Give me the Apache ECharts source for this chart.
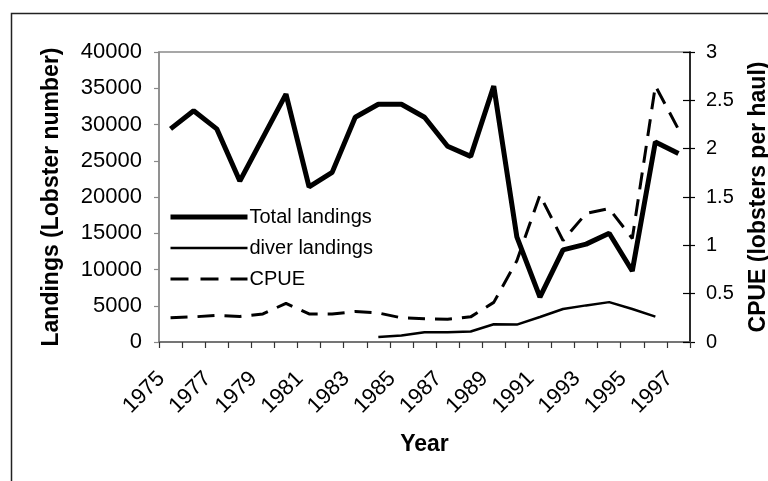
<!DOCTYPE html>
<html>
<head>
<meta charset="utf-8">
<script src="https://cdn.jsdelivr.net/npm/echarts@6/dist/echarts.min.js"></script>
<style>
  html, body { margin: 0; padding: 0; background: #fff; }
  #chart { width: 768px; height: 481px; }
</style>
</head>
<body>
<div id="chart"></div>
<script>
// Lobster fishery series, 1975-1997
const years = ['1975','1976','1977','1978','1979','1980','1981','1982','1983','1984','1985',
               '1986','1987','1988','1989','1990','1991','1992','1993','1994','1995','1996','1997'];

// Total landings (number of lobsters)
const totalLandings = [29400, 31900, 29400, 22200, 28200, 34200, 21400, 23400, 31000, 32800, 32800,
                       31000, 27000, 25600, 35300, 14500, 6200, 12700, 13500, 15000, 9800, 27600, 26000];

// Diver landings (number of lobsters), recorded from 1984 to 1996
const diverLandings = [null, null, null, null, null, null, null, null, null, 700, 900,
                       1350, 1350, 1450, 2450, 2400, 3450, 4550, 5050, 5500, 4550, 3500, null];

// Catch per unit effort (lobsters per haul)
const cpue = [0.25, 0.26, 0.275, 0.265, 0.29, 0.40, 0.29, 0.29, 0.315, 0.30, 0.25,
              0.24, 0.235, 0.26, 0.41, 0.84, 1.52, 1.05, 1.33, 1.38, 1.07, 2.65, 2.2];

const seriesNames = ['Total landings', 'diver landings', 'CPUE'];

const FONT = "'Liberation Sans', Arial, sans-serif";
const CPUE_DASH = [17, 10];

const chart = echarts.init(document.getElementById('chart'), null, { renderer: 'canvas' });

chart.setOption({
  animation: false,
  backgroundColor: '#ffffff',
  textStyle: { fontFamily: FONT, color: '#000' },
  graphic: [{
    type: 'rect',
    left: 9, top: 11,
    shape: { width: 800, height: 500 },
    style: { fill: 'none', stroke: '#222', lineWidth: 1.5 },
    silent: true
  }],
  grid: {
    left: 159, right: 78, top: 52, bottom: 139,
    containLabel: false,
    outerBoundsMode: 'none',
    show: true, borderColor: '#8a8a8a', borderWidth: 1.5, backgroundColor: 'transparent'
  },
  legend: {
    orient: 'vertical',
    left: 168, top: 207,
    padding: 0,
    itemWidth: 77, itemHeight: 20, itemGap: 11,
    itemStyle: { opacity: 0 },
    textStyle: { fontFamily: FONT, fontSize: 20, color: '#000', padding: [0, 0, 0, -3] },
    data: [
      { name: seriesNames[0], lineStyle: { width: 5, color: '#000' } },
      { name: seriesNames[1], lineStyle: { width: 2.5, color: '#000' } },
      { name: seriesNames[2], lineStyle: { width: 3, color: '#000', type: [18, 12] } }
    ]
  },
  xAxis: {
    type: 'category',
    data: years,
    boundaryGap: true,
    axisLine: { show: true, lineStyle: { color: '#666', width: 1.5 } },
    axisTick: { show: true, interval: 0, length: 6, lineStyle: { color: '#333', width: 1.2 } },
    axisLabel: {
      interval: 1, rotate: 45, fontSize: 22, fontFamily: FONT, color: '#000',
      margin: 24, padding: [0, 13, 0, 0]
    },
    name: 'Year',
    nameLocation: 'middle',
    nameGap: 91,
    nameTextStyle: { fontFamily: FONT, fontSize: 23, fontWeight: 'bold', color: '#000' }
  },
  yAxis: [{
    type: 'value',
    min: 0, max: 40000, interval: 5000,
    position: 'left',
    splitLine: { show: false },
    axisLine: { show: true, lineStyle: { color: '#8a8a8a', width: 1.5 } },
    axisTick: { show: true, length: 5, lineStyle: { color: '#8a8a8a', width: 1.2 } },
    axisLabel: { fontSize: 22, fontFamily: FONT, color: '#000', margin: 17, formatter: v => String(v) },
    name: 'Landings (Lobster number)',
    nameLocation: 'middle',
    nameGap: 96,
    nameTextStyle: { fontFamily: FONT, fontSize: 23, fontWeight: 'bold', color: '#000' }
  }, {
    type: 'value',
    min: 0, max: 3, interval: 0.5,
    position: 'right',
    splitLine: { show: false },
    axisLine: { show: true, lineStyle: { color: '#000', width: 1.5 } },
    axisTick: { show: true, length: 5, lineStyle: { color: '#000', width: 1.2 } },
    axisLabel: { fontSize: 20, fontFamily: FONT, color: '#000', margin: 16 },
    name: 'CPUE (lobsters per haul)',
    nameLocation: 'middle',
    nameGap: 57,
    nameTextStyle: { fontFamily: FONT, fontSize: 23, fontWeight: 'bold', color: '#000' }
  }, {
    // inner half of the right-axis tick marks
    type: 'value',
    min: 0, max: 3, interval: 0.5,
    position: 'right',
    splitLine: { show: false },
    axisLine: { show: false },
    axisTick: { show: true, inside: true, length: 7, lineStyle: { color: '#000', width: 1.2 } },
    axisLabel: { show: false }
  }],
  series: [{
    name: seriesNames[0],
    type: 'line',
    yAxisIndex: 0,
    data: totalLandings,
    symbol: 'none',
    lineStyle: { color: '#000', width: 5 },
    itemStyle: { color: '#000' },
    z: 3
  }, {
    name: seriesNames[1],
    type: 'line',
    yAxisIndex: 0,
    data: diverLandings,
    symbol: 'none',
    connectNulls: false,
    lineStyle: { color: '#000', width: 2.5 },
    itemStyle: { color: '#000' },
    z: 2
  }, {
    name: seriesNames[2],
    type: 'line',
    yAxisIndex: 1,
    data: cpue,
    symbol: 'none',
    lineStyle: { color: '#000', width: 3, type: CPUE_DASH },
    itemStyle: { color: '#000' },
    z: 2
  }]
});
</script>
</body>
</html>
